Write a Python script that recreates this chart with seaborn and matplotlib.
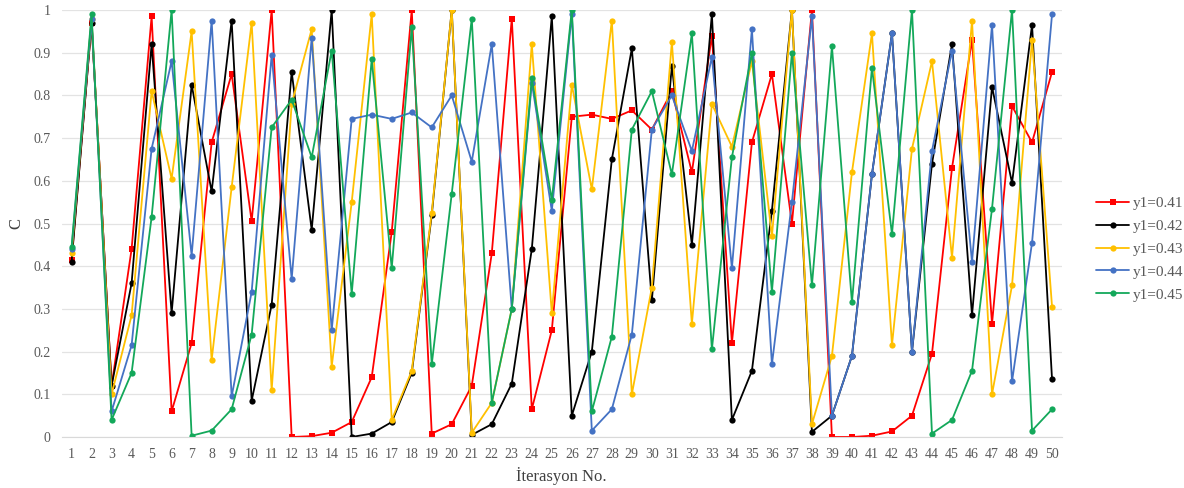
import pandas as pd
import matplotlib
matplotlib.use("Agg")
import matplotlib.pyplot as plt
import seaborn as sns

# iterasyon numaralari
iterasyon = list(range(1, 51))

# her seri icin C degerleri
c_041 = [0.415, 0.97, 0.12, 0.44, 0.985, 0.06, 0.22, 0.69, 0.85, 0.505,
         1.0, 0.0, 0.002, 0.01, 0.035, 0.14, 0.48, 1.0, 0.008, 0.03,
         0.12, 0.43, 0.98, 0.065, 0.25, 0.75, 0.755, 0.745, 0.765, 0.72,
         0.81, 0.62, 0.94, 0.22, 0.69, 0.85, 0.50, 1.0, 0.0, 0.0,
         0.003, 0.013, 0.05, 0.195, 0.63, 0.93, 0.265, 0.775, 0.69, 0.855]
c_042 = [0.41, 0.97, 0.12, 0.36, 0.92, 0.29, 0.825, 0.575, 0.975, 0.085,
         0.31, 0.855, 0.485, 1.0, 0.0, 0.008, 0.035, 0.15, 0.52, 1.0,
         0.005, 0.03, 0.125, 0.44, 0.985, 0.05, 0.20, 0.65, 0.91, 0.32,
         0.87, 0.45, 0.99, 0.04, 0.155, 0.53, 1.0, 0.012, 0.05, 0.19,
         0.615, 0.945, 0.2, 0.64, 0.92, 0.285, 0.82, 0.595, 0.965, 0.135]
c_043 = [0.43, 0.98, 0.10, 0.285, 0.81, 0.605, 0.95, 0.18, 0.585, 0.97,
         0.11, 0.78, 0.955, 0.165, 0.55, 0.99, 0.04, 0.155, 0.525, 1.0,
         0.01, 0.08, 0.30, 0.92, 0.29, 0.825, 0.58, 0.975, 0.10, 0.35,
         0.925, 0.265, 0.78, 0.68, 0.88, 0.47, 1.0, 0.03, 0.19, 0.62,
         0.945, 0.215, 0.675, 0.88, 0.42, 0.975, 0.10, 0.355, 0.93, 0.305]
c_044 = [0.44, 0.98, 0.06, 0.215, 0.675, 0.88, 0.425, 0.975, 0.095, 0.34,
         0.895, 0.37, 0.935, 0.25, 0.745, 0.755, 0.745, 0.76, 0.725, 0.80,
         0.645, 0.92, 0.30, 0.83, 0.53, 0.99, 0.015, 0.065, 0.24, 0.72,
         0.80, 0.67, 0.89, 0.395, 0.955, 0.17, 0.55, 0.985, 0.05, 0.19,
         0.615, 0.945, 0.2, 0.67, 0.905, 0.41, 0.965, 0.13, 0.455, 0.99]
c_045 = [0.445, 0.99, 0.04, 0.15, 0.515, 1.0, 0.003, 0.015, 0.065, 0.24,
         0.725, 0.79, 0.655, 0.905, 0.335, 0.885, 0.395, 0.96, 0.17, 0.57,
         0.98, 0.08, 0.30, 0.84, 0.555, 1.0, 0.06, 0.235, 0.72, 0.81,
         0.615, 0.945, 0.205, 0.655, 0.90, 0.34, 0.90, 0.355, 0.915, 0.315,
         0.865, 0.475, 1.0, 0.008, 0.04, 0.155, 0.535, 1.0, 0.015, 0.065]

seriler = ["y1=0.41", "y1=0.42", "y1=0.43", "y1=0.44", "y1=0.45"]
renkler = ["#FF0000", "#000000", "#FFC000", "#4472C4", "#13A85A"]

df = pd.concat([
    pd.DataFrame({"iterasyon": iterasyon, "C": v, "seri": s})
    for s, v in zip(seriler, [c_041, c_042, c_043, c_044, c_045])
])

sns.set_style("white")
plt.rcParams["font.family"] = ["Liberation Serif", "DejaVu Serif"]

fig = plt.figure(figsize=(11.84, 4.88), dpi=100)
ax = fig.add_axes([0.052, 0.1045, 0.845, 0.875])

sns.lineplot(data=df, x="iterasyon", y="C", hue="seri", style="seri",
             palette=dict(zip(seriler, renkler)),
             markers=dict(zip(seriler, ["s", "o", "o", "o", "o"])),
             dashes=False, linewidth=1.3, markersize=4.5, markeredgewidth=0,
             ax=ax)

ax.set_xlim(0.5, 50.5)
ax.set_ylim(0, 1)
ax.set_xticks(iterasyon)
ax.set_xticklabels([str(i) for i in iterasyon], fontsize=10, color="#595959")
ax.set_yticks([i / 10 for i in range(11)])
ax.set_yticklabels(["0"] + [f"{i/10:g}" for i in range(1, 10)] + ["1"],
                   fontsize=10, color="#595959")
ax.tick_params(axis="both", length=0, pad=8)
ax.yaxis.grid(True, color="#E3E3E3", linewidth=0.9)
ax.set_axisbelow(True)
for sp in ["top", "right", "left"]:
    ax.spines[sp].set_visible(False)
ax.spines["bottom"].set_color("#D9D9D9")

ax.set_xlabel("İterasyon No.", fontsize=12, color="#404040", labelpad=4)
ax.set_ylabel("C", fontsize=12, color="#404040", labelpad=6)

leg = ax.legend(loc="center left", bbox_to_anchor=(1.02, 0.44), frameon=False,
                fontsize=11, handlelength=2.2, handletextpad=0.2,
                labelspacing=0.6)
for t in leg.get_texts():
    t.set_color("#595959")

fig.savefig("out.png", dpi=100)
